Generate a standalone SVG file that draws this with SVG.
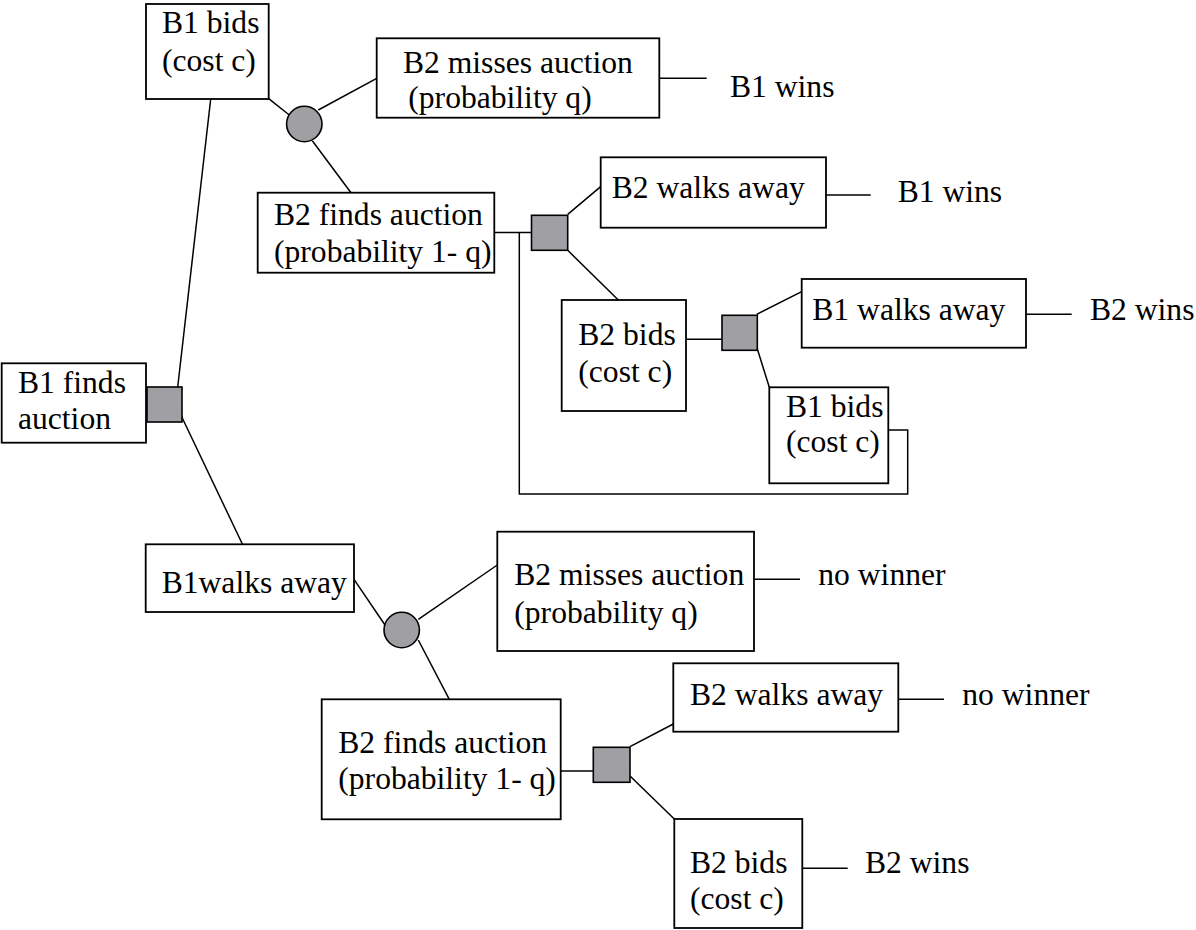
<svg xmlns="http://www.w3.org/2000/svg" width="1196" height="930" viewBox="0 0 1196 930">
<style>
.box{fill:#fff;stroke:#000;stroke-width:1.8}
.dec{fill:#a0a0a4;stroke:#000;stroke-width:1.6}
.ln{fill:none;stroke:#000;stroke-width:1.5}
.t text{font-family:'Liberation Serif','Times New Roman',Times,'DejaVu Serif',serif;font-size:31.6px;fill:#000}
</style>
<rect width="1196" height="930" fill="#fff"/>
<g id="connectors">
<line class="ln" x1="210.7" y1="99" x2="177.7" y2="387"/>
<line class="ln" x1="179.3" y1="411.7" x2="243.3" y2="546"/>
<line class="ln" x1="268.7" y1="98.7" x2="289.3" y2="115"/>
<line class="ln" x1="318.3" y1="110" x2="376.7" y2="78.3"/>
<line class="ln" x1="312.3" y1="140.7" x2="351" y2="192.7"/>
<line class="ln" x1="659.3" y1="78.3" x2="706.7" y2="78.3"/>
<line class="ln" x1="494.3" y1="232.5" x2="531.5" y2="232.5"/>
<polyline class="ln" points="519.3,232.5 519.3,494 907.7,494 907.7,430 888.3,430"/>
<line class="ln" x1="567.7" y1="214.3" x2="600.7" y2="186.7"/>
<line class="ln" x1="826" y1="195" x2="870.7" y2="195"/>
<line class="ln" x1="567.7" y1="250.3" x2="618.3" y2="300"/>
<line class="ln" x1="686" y1="339.3" x2="722" y2="339.3"/>
<line class="ln" x1="756.7" y1="314.3" x2="801.7" y2="291.7"/>
<line class="ln" x1="1026" y1="314.3" x2="1071.7" y2="314.3"/>
<line class="ln" x1="754.3" y1="339.3" x2="769.3" y2="387.3"/>
<line class="ln" x1="354" y1="579.3" x2="385" y2="625"/>
<line class="ln" x1="418.3" y1="619.3" x2="497.3" y2="565"/>
<line class="ln" x1="754" y1="579.3" x2="800" y2="579.3"/>
<line class="ln" x1="418.3" y1="640" x2="449.3" y2="699.3"/>
<line class="ln" x1="560.7" y1="771" x2="593.3" y2="771"/>
<line class="ln" x1="630" y1="746.7" x2="673.3" y2="724"/>
<line class="ln" x1="898.3" y1="699.3" x2="944" y2="699.3"/>
<line class="ln" x1="630" y1="776" x2="674.3" y2="819"/>
<line class="ln" x1="802.3" y1="868.3" x2="847.7" y2="868.3"/>
</g>
<g class="t" font-family="Liberation Serif, Times New Roman, serif" font-size="31.6">
<g id="b1-bids">
<rect class="box" x="146" y="4" width="122.7" height="95"/>
<text x="162" y="33">B1 bids</text>
<text x="162" y="71">(cost c)</text>
</g>
<g id="chance-1">
<circle class="dec" cx="304.3" cy="124" r="17.7"/>
</g>
<g id="b2-misses-1">
<rect class="box" x="376.7" y="38.3" width="282.6" height="79.4"/>
<text x="403" y="72.7">B2 misses auction</text>
<text x="408.3" y="108.3">(probability q)</text>
</g>
<g id="outcome-1"><text x="730" y="96.7">B1 wins</text></g>
<g id="b2-finds-1">
<rect class="box" x="257.7" y="192.7" width="236.6" height="80"/>
<text x="274" y="225">B2 finds auction</text>
<text x="274" y="262">(probability 1- q)</text>
</g>
<g id="decision-2">
<rect class="dec" x="531.5" y="215.3" width="36.2" height="35"/>
</g>
<g id="b2-walks-1">
<rect class="box" x="600.7" y="157.3" width="225.3" height="70.4"/>
<text x="611.7" y="198.3">B2 walks away</text>
</g>
<g id="outcome-2"><text x="897.7" y="201.7">B1 wins</text></g>
<g id="b2-bids-1">
<rect class="box" x="561.7" y="300" width="124.3" height="111"/>
<text x="578.3" y="345">B2 bids</text>
<text x="578.3" y="381.5">(cost c)</text>
</g>
<g id="decision-3">
<rect class="dec" x="722" y="315.3" width="35.3" height="35"/>
</g>
<g id="b1-walks-1">
<rect class="box" x="801.7" y="279" width="224.3" height="68.7"/>
<text x="812.3" y="320">B1 walks away</text>
</g>
<g id="outcome-3"><text x="1090" y="320">B2 wins</text></g>
<g id="b1-bids-2">
<rect class="box" x="769.3" y="387.3" width="119" height="96"/>
<text x="786" y="416.7">B1 bids</text>
<text x="786" y="451.7">(cost c)</text>
</g>
<g id="b1-finds">
<rect class="box" x="1.7" y="363.3" width="144.3" height="79.4"/>
<text x="18" y="392.7">B1 finds</text>
<text x="18" y="429.3">auction</text>
</g>
<g id="decision-1">
<rect class="dec" x="147" y="387" width="35" height="35"/>
</g>
<g id="b1-walks-away">
<rect class="box" x="145.7" y="544.3" width="208.3" height="67.7"/>
<text x="161.7" y="592.7">B1walks away</text>
</g>
<g id="chance-2">
<circle class="dec" cx="401.7" cy="630" r="17.7"/>
</g>
<g id="b2-misses-2">
<rect class="box" x="497.3" y="531.7" width="256.7" height="119.3"/>
<text x="514.3" y="585">B2 misses auction</text>
<text x="514.3" y="623">(probability q)</text>
</g>
<g id="outcome-4"><text x="818.3" y="585">no winner</text></g>
<g id="b2-finds-2">
<rect class="box" x="321.7" y="699.3" width="239" height="120"/>
<text x="338.3" y="752.7">B2 finds auction</text>
<text x="338.3" y="789.3">(probability 1- q)</text>
</g>
<g id="decision-4">
<rect class="dec" x="593.3" y="747.3" width="36.7" height="35"/>
</g>
<g id="b2-walks-2">
<rect class="box" x="673.3" y="663.3" width="225" height="68.4"/>
<text x="690" y="705">B2 walks away</text>
</g>
<g id="outcome-5"><text x="962.3" y="705">no winner</text></g>
<g id="b2-bids-2">
<rect class="box" x="674.3" y="819" width="128" height="109"/>
<text x="690" y="872.7">B2 bids</text>
<text x="690" y="909.3">(cost c)</text>
</g>
<g id="outcome-6"><text x="865" y="872.7">B2 wins</text></g>
</g>
</svg>
